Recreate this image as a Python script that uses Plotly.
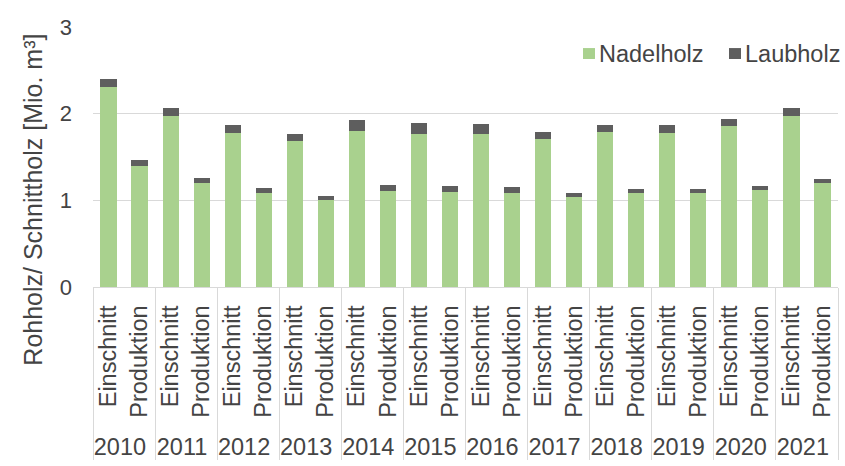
import plotly.graph_objects as go

years = ["2010", "2011", "2012", "2013", "2014", "2015", "2016", "2017", "2018", "2019", "2020", "2021"]
kinds = ["Einschnitt", "Produktion"]

# Mio. m³ per year: (Einschnitt, Produktion)
nadelholz = [2.31, 1.40, 1.97, 1.20, 1.78, 1.09, 1.68, 1.00, 1.80, 1.11, 1.77, 1.10,
             1.76, 1.08, 1.71, 1.04, 1.79, 1.08, 1.78, 1.08, 1.86, 1.12, 1.97, 1.20]
laubholz = [0.09, 0.06, 0.10, 0.06, 0.09, 0.05, 0.09, 0.05, 0.13, 0.07, 0.12, 0.07,
            0.12, 0.07, 0.08, 0.05, 0.08, 0.05, 0.09, 0.05, 0.08, 0.05, 0.09, 0.05]

series_names = ["Nadelholz", "Laubholz"]
series_colors = ["#A9D18E", "#5E5E5E"]

x_outer = [y for y in years for _ in kinds]
x_inner = [k for _ in years for k in kinds]

FONT = "Liberation Sans, Arial, sans-serif"
TEXT = "#444444"
FS = 23.5

fig = go.Figure()
for name, vals, col in zip(series_names, [nadelholz, laubholz], series_colors):
    fig.add_trace(go.Bar(x=[x_outer, x_inner], y=vals, name=name, showlegend=False,
                         marker=dict(color=col, line=dict(width=0))))

# compact legend in the upper right: square swatch + label per series
legend_x0 = [0.6577, 0.8537]
text_x0 = [0.6765, 0.8725]
shapes = []
annotations = []
for name, col, sx, tx in zip(series_names, series_colors, legend_x0, text_x0):
    shapes.append(dict(type="rect", xref="paper", yref="paper",
                       x0=sx, x1=sx + 0.0161, y0=0.877, y1=0.919,
                       fillcolor=col, line=dict(width=0)))
    annotations.append(dict(text=name, xref="paper", yref="paper", x=tx, y=0.898,
                            xanchor="left", yanchor="middle", showarrow=False,
                            font=dict(size=FS, color=TEXT)))

annotations.append(dict(text="Rohholz/ Schnittholz [Mio. m³]", textangle=-90,
                        xref="paper", yref="paper", x=-0.0805, y=0.336,
                        xanchor="center", yanchor="middle",
                        showarrow=False, font=dict(size=25, color=TEXT)))

fig.update_layout(
    barmode="stack",
    bargap=0.48,
    width=845, height=466,
    margin=dict(l=93, r=7, t=27, b=174),
    paper_bgcolor="white", plot_bgcolor="white",
    font=dict(family=FONT, size=FS, color=TEXT),
    showlegend=False,
    xaxis=dict(type="multicategory", tickangle=-90, showline=True, linecolor="#d9d9d9",
               linewidth=1, showgrid=False, showdividers=True, dividercolor="#d9d9d9",
               dividerwidth=1, ticks="", tickfont=dict(size=FS, color=TEXT),
               ticklabelstandoff=8),
    yaxis=dict(range=[0, 3], dtick=1, showgrid=True, gridcolor="#d9d9d9", gridwidth=1,
               zeroline=False, ticks="", tickfont=dict(size=22, color=TEXT),
               ticklabelstandoff=20),
    shapes=shapes,
    annotations=annotations,
)

fig.write_html("out.html")
